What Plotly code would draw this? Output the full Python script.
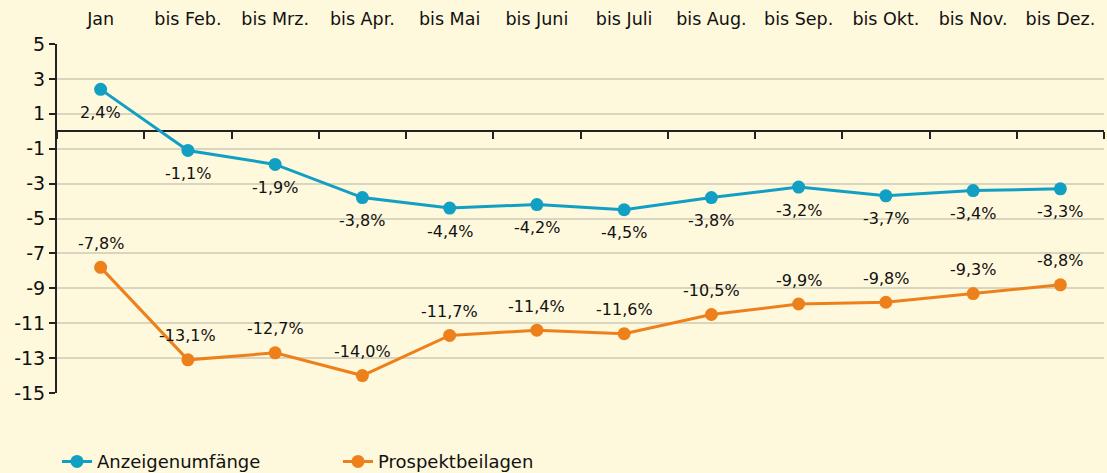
import plotly.graph_objects as go

categories = ["Jan", "bis Feb.", "bis Mrz.", "bis Apr.", "bis Mai", "bis Juni",
              "bis Juli", "bis Aug.", "bis Sep.", "bis Okt.", "bis Nov.", "bis Dez."]
anzeigen = [2.4, -1.1, -1.9, -3.8, -4.4, -4.2, -4.5, -3.8, -3.2, -3.7, -3.4, -3.3]
prospekt = [-7.8, -13.1, -12.7, -14.0, -11.7, -11.4, -11.6, -10.5, -9.9, -9.8, -9.3, -8.8]
y_ticks = [5, 3, 1, -1, -3, -5, -7, -9, -11, -13, -15]

BLUE = "#119FC4"
ORANGE = "#EE801C"
BG = "#FEF8DC"
FONT = "DejaVu Sans"

def fmt(v):
    return f"{v:.1f}".replace(".", ",") + "%"

xrange = [-0.5, len(categories) - 0.5]

fig = go.Figure()
fig.add_trace(go.Scatter(x=categories, y=anzeigen, mode="lines+markers", name="Anzeigenumfänge",
                         line=dict(color=BLUE, width=3), marker=dict(size=13, color=BLUE)))
fig.add_trace(go.Scatter(x=categories, y=prospekt, mode="lines+markers", name="Prospektbeilagen",
                         line=dict(color=ORANGE, width=3), marker=dict(size=13, color=ORANGE)))

for c, v in zip(categories, anzeigen):
    fig.add_annotation(x=c, y=v, text=fmt(v), showarrow=False, yshift=-23,
                       font=dict(family=FONT, size=16, color="#111111"))
for c, v in zip(categories, prospekt):
    fig.add_annotation(x=c, y=v, text=fmt(v), showarrow=False, yshift=24,
                       font=dict(family=FONT, size=16, color="#111111"))

# invisible helper trace on a second category axis that draws the divider ticks on the zero line
fig.add_trace(go.Scatter(x=categories, y=[0] * len(categories), xaxis="x2", yaxis="y",
                         mode="markers", marker=dict(size=1, opacity=0), showlegend=False,
                         hoverinfo="skip"))

fig.update_layout(
    width=1107, height=473,
    paper_bgcolor=BG, plot_bgcolor=BG,
    margin=dict(l=57, r=3, t=44, b=80, autoexpand=False),
    font=dict(family=FONT, size=16, color="#111111"),
    showlegend=True,
    legend=dict(orientation="h", x=0, xanchor="left", y=-0.197, yanchor="middle",
                font=dict(family=FONT, size=18, color="#111111"),
                bgcolor="rgba(0,0,0,0)", entrywidth=236),
    xaxis=dict(side="top", type="category", range=xrange, showgrid=False, showline=False,
               ticks="", tickfont=dict(size=17.5), anchor="free", position=1,
               ticklabelstandoff=16, zeroline=False, automargin=False),
    xaxis2=dict(type="category", overlaying="x", side="bottom", range=xrange,
                showticklabels=False, ticks="outside", ticklen=7,
                tickcolor="#222222", tickwidth=2, tickson="boundaries",
                showgrid=False, showline=False, zeroline=False,
                anchor="free", position=0.75, automargin=False),
    yaxis=dict(range=[-15, 5], tickvals=y_ticks, ticktext=[str(t) for t in y_ticks],
               showgrid=True, gridcolor="#D9D5BE", gridwidth=1.5,
               showline=True, linecolor="#222222", linewidth=2,
               ticks="outside", ticklen=6, tickcolor="#222222", tickwidth=2,
               zeroline=True, zerolinecolor="#222222", zerolinewidth=2,
               tickfont=dict(size=19), automargin=False),
)

fig.write_html("out.html", config={"displayModeBar": False})

with open("out.html", "r", encoding="utf-8") as f:
    html = f.read()
html = html.replace("<head>", "<head><style>html,body{margin:0;padding:0;overflow:hidden;background:%s;}</style>" % BG, 1)
with open("out.html", "w", encoding="utf-8") as f:
    f.write(html)
